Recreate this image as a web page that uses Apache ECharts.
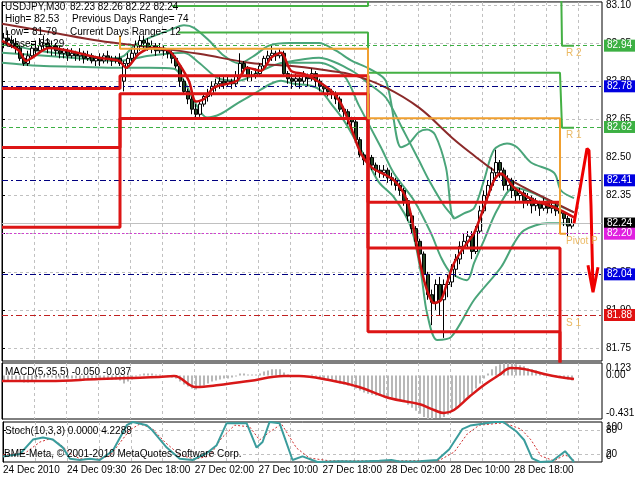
<!DOCTYPE html>
<html><head><meta charset="utf-8">
<script src="https://cdn.jsdelivr.net/npm/echarts@6/dist/echarts.min.js"></script>
<style>html,body{margin:0;padding:0;background:#fff}#c{width:640px;height:480px}</style>
</head><body><div id="c"></div>
<script>
const FONT = 'Liberation Sans';
// ---------- axes / ticks ----------
const xLabelPos = [0,16,32,48,64,80,96,112,128];
const xLabels = ['24 Dec 2010','24 Dec 09:30','26 Dec 18:00','27 Dec 02:00','27 Dec 10:00','27 Dec 18:00','28 Dec 02:00','28 Dec 10:00','28 Dec 18:00'];
const vGridPos = [0,8,16,24,32,40,48,56,64,72,80,88,96,104,112,120,128,136,144];
const yTicks = [81.75,81.90,82.05,82.20,82.35,82.50,82.65,82.80,82.95,83.10];
const macdEdgeTicks = [0.123,-0.431];
const macdEdgeText = ['0.123','-0.431'];
const macdZeroTick = [0];
const macdZeroText = ['0.00'];
const stochTicksA = [20,100];
const stochTicksB = [0,80];
const stochLevels = [20,80];
// ---------- candles [open, close, low, high] ----------
const candles = [
[82.95,82.97,82.93,82.99],[82.97,82.96,82.94,83.00],[82.96,82.95,82.93,82.98],[82.95,82.93,82.91,82.97],
[82.93,82.89,82.88,82.94],[82.89,82.87,82.86,82.91],[82.87,82.90,82.86,82.92],[82.90,82.93,82.89,82.95],
[82.93,82.92,82.90,82.96],[82.92,82.94,82.91,82.97],[82.94,82.95,82.92,82.98],[82.95,82.93,82.91,82.97],
[82.93,82.94,82.90,82.96],[82.94,82.92,82.90,82.95],[82.92,82.91,82.89,82.94],[82.91,82.92,82.89,82.93],
[82.92,82.90,82.88,82.93],[82.90,82.91,82.89,82.93],[82.91,82.90,82.88,82.92],[82.90,82.91,82.88,82.93],
[82.91,82.89,82.87,82.92],[82.89,82.90,82.88,82.92],[82.90,82.88,82.87,82.91],[82.88,82.89,82.86,82.90],
[82.89,82.88,82.86,82.91],[82.88,82.90,82.87,82.91],[82.90,82.89,82.87,82.92],[82.89,82.88,82.86,82.90],
[82.88,82.89,82.87,82.90],[82.89,82.87,82.86,82.91],
[82.80,82.87,82.76,82.88],[82.87,82.89,82.85,82.91],[82.89,82.91,82.87,82.93],[82.91,82.94,82.90,82.96],
[82.94,82.96,82.92,82.98],[82.96,82.95,82.93,82.98],[82.95,82.93,82.92,82.97],[82.93,82.94,82.91,82.96],
[82.94,82.92,82.90,82.95],[82.92,82.93,82.91,82.95],[82.93,82.92,82.90,82.94],[82.92,82.91,82.89,82.93],
[82.91,82.89,82.87,82.92],[82.89,82.86,82.85,82.90],[82.86,82.80,82.78,82.87],[82.80,82.76,82.75,82.81],
[82.76,82.73,82.71,82.77],[82.73,82.69,82.67,82.74],[82.69,82.67,82.65,82.71],[82.67,82.71,82.66,82.72],
[82.71,82.74,82.70,82.75],[82.74,82.75,82.72,82.77],[82.75,82.78,82.74,82.80],[82.78,82.79,82.76,82.81],
[82.79,82.80,82.77,82.82],[82.80,82.79,82.77,82.82],[82.79,82.80,82.78,82.82],[82.80,82.79,82.77,82.81],
[82.79,82.82,82.78,82.84],[82.82,82.87,82.81,82.91],[82.87,82.85,82.83,82.88],[82.85,82.82,82.80,82.86],
[82.82,82.82,82.80,82.84],[82.82,82.83,82.81,82.85],[82.83,82.86,82.82,82.87],[82.86,82.89,82.85,82.90],
[82.89,82.90,82.87,82.92],[82.90,82.91,82.88,82.94],[82.91,82.90,82.88,82.92],[82.90,82.91,82.89,82.93],
[82.91,82.83,82.82,82.92],[82.83,82.81,82.79,82.84],[82.81,82.80,82.77,82.83],[82.80,82.81,82.78,82.83],
[82.81,82.80,82.77,82.82],[82.80,82.82,82.79,82.84],[82.82,82.81,82.78,82.83],[82.81,82.83,82.80,82.85],
[82.83,82.80,82.78,82.84],[82.80,82.78,82.76,82.81],[82.78,82.77,82.75,82.79],[82.77,82.76,82.74,82.78],
[82.76,82.75,82.73,82.77],[82.75,82.73,82.71,82.76],[82.73,82.69,82.68,82.74],[82.69,82.68,82.66,82.70],
[82.68,82.65,82.63,82.69],[82.65,82.64,82.62,82.66],[82.64,82.57,82.56,82.65],[82.57,82.51,82.50,82.58],
[82.51,82.49,82.47,82.52],[82.49,82.50,82.47,82.52],[82.50,82.47,82.45,82.51],[82.47,82.45,82.43,82.48],
[82.45,82.44,82.42,82.47],[82.44,82.45,82.42,82.47],[82.45,82.42,82.40,82.46],[82.42,82.41,82.39,82.44],
[82.41,82.39,82.37,82.42],[82.39,82.37,82.35,82.40],[82.37,82.33,82.31,82.38],[82.33,82.27,82.25,82.34],
[82.27,82.22,82.20,82.28],[82.22,82.17,82.15,82.23],[82.17,82.12,82.10,82.18],[82.12,82.04,82.02,82.13],
[82.04,81.96,81.94,82.05],[81.96,81.93,81.84,81.98],[81.93,82.00,81.90,82.02],[82.00,81.94,81.88,82.03],
[81.94,82.00,81.79,82.02],[82.00,82.01,81.95,82.04],[82.01,82.06,81.99,82.08],[82.06,82.10,82.03,82.12],
[82.10,82.15,82.08,82.17],[82.15,82.17,82.12,82.20],[82.17,82.19,82.14,82.21],[82.19,82.13,82.10,82.21],
[82.13,82.21,82.12,82.23],[82.21,82.29,82.20,82.31],[82.29,82.35,82.28,82.37],[82.35,82.39,82.33,82.41],
[82.39,82.44,82.37,82.46],[82.44,82.48,82.41,82.53],[82.48,82.45,82.42,82.49],[82.45,82.39,82.37,82.46],
[82.39,82.41,82.37,82.43],[82.41,82.37,82.34,82.42],[82.37,82.35,82.32,82.38],[82.35,82.36,82.33,82.38],
[82.36,82.33,82.30,82.37],[82.33,82.34,82.31,82.36],[82.34,82.31,82.28,82.35],[82.31,82.32,82.29,82.34],
[82.32,82.30,82.27,82.33],[82.30,82.32,82.29,82.34],[82.32,82.30,82.28,82.33],[82.30,82.31,82.28,82.33],
[82.31,82.29,82.27,82.32],[82.29,82.28,82.25,82.31],[82.28,82.26,82.23,82.29],[82.26,82.23,82.19,82.27],
[82.23,82.24,82.22,82.26]
];
// ---------- indicator lines [barPosition, price] ----------
const bbUpper = [[0,82.95],[9.25,82.92],[19.25,82.90],[28,82.89],[30.5,82.90],[33,82.94],[36.75,82.97],[41.75,83.00],[45.5,83.02],[48,83.01],[51.75,82.96],[55.5,82.90],[59.25,82.87],[63,82.90],[66.75,82.94],[71.75,82.95],[79.25,82.95],[83.5,82.92],[87.5,82.88],[91.75,82.85],[96,82.80],[99.75,82.54],[101.75,82.555],[104.25,82.60],[106.25,82.61],[108.25,82.59],[111,82.46],[113,82.26],[115.5,82.28],[118,82.30],[120.5,82.41],[123,82.53],[126.25,82.555],[128.75,82.54],[132.25,82.48],[138,82.44],[139.75,82.37],[143,82.34]];
const bbMid = [[0,82.912],[14.25,82.896],[29.25,82.880],[36.75,82.900],[45.5,82.912],[49.25,82.873],[54.25,82.810],[59.25,82.802],[64.75,82.841],[70.5,82.873],[79.25,82.873],[85.5,82.822],[89.25,82.704],[94.75,82.539],[98,82.437],[103,82.331],[107.25,82.202],[109.75,82.107],[112.25,82.045],[116.25,82.017],[118,82.084],[120.5,82.174],[123.75,82.292],[128,82.382],[133,82.359],[138,82.319],[143,82.284]];
const bbLower = [[0,82.873],[9.25,82.861],[19.25,82.857],[29.25,82.853],[36.75,82.853],[43,82.849],[45.5,82.802],[48,82.723],[51.25,82.657],[54.75,82.672],[58.75,82.712],[63,82.751],[67.25,82.790],[69.75,82.802],[73,82.790],[77.25,82.782],[79.75,82.763],[82.25,82.712],[85.5,82.645],[88,82.578],[91.25,82.488],[94.25,82.402],[98,82.343],[102.25,82.225],[104.75,82.045],[106.25,81.888],[108.75,81.782],[112.25,81.793],[118,81.939],[124.75,82.068],[128,82.162],[130.5,82.213],[136.25,82.241],[139.75,82.241],[143,82.233]];
const bbSlow = [[70.5,82.873],[79.25,82.892],[87.5,82.841],[91.75,82.790],[96,82.735],[100,82.617],[104.25,82.488],[106.75,82.410],[110.5,82.311],[113,82.264]];
const maLong = [[0,83.026],[11.75,82.994],[24.25,82.959],[36.75,82.935],[49.25,82.908],[61.75,82.873],[74.25,82.857],[81.75,82.841],[87.5,82.826],[96,82.775],[104.25,82.696],[112.5,82.578],[118,82.508],[123,82.449],[130.5,82.382],[138,82.323],[143,82.284]];
const maFast = [[0,82.959],[4.25,82.920],[6,82.880],[7.5,82.892],[11.75,82.931],[24.25,82.892],[29.25,82.880],[31,82.853],[34.25,82.908],[37.5,82.931],[41.75,82.920],[44.25,82.869],[46.75,82.80],[48.5,82.72],[50.5,82.73],[53,82.775],[58.75,82.802],[61.25,82.853],[64.75,82.841],[67.25,82.892],[69.75,82.912],[72.25,82.841],[75.5,82.829],[78.75,82.802],[82.25,82.763],[84.75,82.712],[87.25,82.617],[89.75,82.515],[92.5,82.46],[98,82.41],[101.25,82.331],[103,82.213],[104.75,82.068],[106.25,81.978],[108,81.927],[109.75,81.939],[111.25,82.006],[113,82.084],[115.5,82.147],[118,82.202],[120.5,82.304],[123,82.41],[124.75,82.437],[128,82.382],[133,82.331],[138,82.304],[143,82.264]];
// daily pivot / range levels (step lines)
const redLine1 = [[0,82.771],[29.5,82.771],[29.5,82.822],[91.5,82.822],[91.5,82.324],[139.5,82.324]];
const redLine2 = [[0,82.539],[29.5,82.539],[29.5,82.751],[91.5,82.751],[91.5,82.144],[139.5,82.144],[139.5,81.0]];
const redLine3 = [[0,82.225],[29.5,82.225],[29.5,82.653],[91.5,82.653],[91.5,81.814],[139.5,81.814],[139.5,81.0]];
const greenLine1 = [[42.5,83.096],[91.5,83.096],[91.5,83.5],[139.5,83.5],[140,82.94],[143,82.94]];
const greenLine2 = [[44,82.992],[91.5,82.992],[91.5,82.833],[139.5,82.833],[140,82.617],[143,82.617]];
const orangeLine = [[29.5,82.98],[29.5,82.928],[91.5,82.928],[91.5,82.654],[139.5,82.654],[139.5,82.20],[141,82.20]];
const forecast = [[143,82.241],[146.25,82.535],[146.75,82.527],[147.25,82.311],[147.75,81.978]];
const forecastHead = [[146.5,82.076],[147.75,81.970],[149,82.068]];
const pivotNames = ['R 2','R 1','Pivot P','S 1'];
const pivotLevels = [82.94,82.62,82.20,81.88];
const levelValues = [82.94,82.78,82.62,82.41,82.24,82.20,82.04,81.88];
// ---------- MACD ----------
const macdHist = [-0.05,-0.05,-0.04,-0.04,-0.05,-0.07,-0.07,-0.05,-0.04,-0.03,-0.02,
-0.02,-0.02,-0.03,-0.03,-0.03,-0.03,-0.03,-0.03,-0.04,-0.04,-0.04,-0.04,-0.04,-0.04,-0.04,-0.04,-0.04,-0.04,-0.05,
-0.08,-0.06,-0.04,-0.01,0.01,0.02,0.02,0.02,0.01,0.01,0.00,-0.01,-0.02,-0.03,
-0.06,-0.09,-0.11,-0.13,-0.14,-0.12,-0.10,-0.08,-0.06,-0.05,-0.04,-0.03,
-0.03,-0.02,-0.01,0.02,0.02,0.01,0.01,0.01,0.02,0.04,0.05,0.06,0.06,0.06,
0.03,0.01,0.00,0.00,-0.01,0.00,0.00,0.01,-0.01,-0.02,-0.03,-0.04,-0.05,-0.06,-0.08,-0.09,
-0.10,-0.11,-0.13,-0.15,-0.17,-0.18,-0.19,-0.20,-0.20,-0.21,-0.21,-0.22,-0.23,-0.24,
-0.26,-0.29,-0.32,-0.35,-0.38,-0.41,-0.43,-0.43,-0.42,-0.42,-0.41,-0.39,-0.36,
-0.33,-0.29,-0.25,-0.21,-0.18,-0.13,-0.08,-0.03,0.02,0.06,0.09,0.11,0.12,
0.12,0.12,0.11,0.10,0.09,0.07,0.06,0.05,0.03,0.02,0.01,0.00,-0.01,-0.02,-0.03,-0.04,-0.05];
const macdSignal = [[0,-0.055],[11.75,-0.055],[24.25,-0.036],[31.75,-0.026],[39.25,-0.016],[43,-0.006],[48.5,-0.115],[54.25,-0.095],[61.75,-0.055],[70.5,-0.006],[74.25,-0.006],[81.75,-0.046],[89.25,-0.115],[96.75,-0.224],[104.25,-0.283],[108,-0.342],[110.5,-0.372],[113,-0.342],[116.75,-0.214],[120.5,-0.095],[124.25,0.004],[127.25,0.073],[130.5,0.063],[135.5,0.014],[139.25,-0.016],[143,-0.036]];
// ---------- Stochastic ----------
const stochMain = [[0,14],[4.25,20],[7.5,56],[10,61],[12.5,56],[15,36],[16.75,8],[19.25,5],[21.75,8],[24.25,5],[27.5,28],[31,92],[32.5,100],[36,92],[37.5,78],[41,36],[44.25,8],[47.5,5],[51,22],[53.5,42],[56,97],[61,97],[63.5,36],[65,50],[66.75,100],[69.25,97],[72.5,5],[75,14],[78.75,0],[84.25,2],[89.25,1],[94.25,3],[97.25,5],[99.25,1],[104.25,2],[108.75,5],[111.75,32],[115,82],[117,91],[123.25,100],[125.25,100],[128.5,77],[130.5,55],[132.5,9],[134.5,0],[137.5,2],[140.75,27],[143,0]];
const stochSignal = [[0,18],[5.5,22],[9.25,50],[11.75,58],[14.25,45],[16.75,22],[19.25,8],[23,6],[26.75,15],[31.75,80],[34.25,95],[37.25,85],[40.5,50],[44.25,18],[48,7],[51.75,15],[54.75,60],[58,92],[61.75,88],[64.25,55],[66.75,75],[69.75,95],[73.5,35],[76.75,10],[81.75,3],[99.25,3],[109.25,4],[113,25],[116.25,70],[119.25,92],[125.5,98],[129.75,82],[132.25,55],[134.75,15],[138,3],[140.75,18],[143,4]];

// ================= chart =================
const NBARS = 150;
const cats = Array.from({length: NBARS}, (_, i) => String(i));
const chart = echarts.init(document.getElementById('c'), null, {renderer: 'canvas'});
const gridLine = {show: true, lineStyle: {color: '#c0c0c0', type: [3, 3], width: 1}};
const L = 2, R = 38;
function valX(gi, extra) {
  return Object.assign({type: 'value', gridIndex: gi, min: 0, max: NBARS,
    axisLine: {show: false}, axisTick: {show: false, customValues: vGridPos},
    axisLabel: {show: false}, splitLine: gridLine}, extra || {});
}
function lineS(data, color, width, extra) {
  return Object.assign({type: 'line', xAxisIndex: 2, yAxisIndex: 0, data: data, symbol: 'none',
    lineStyle: {color: color, width: width}, silent: true, animation: false, z: 3}, extra || {});
}
const levelStyles = [
  {c: '#3cb043', t: [4, 3], bg: '#3cb043'},
  {c: '#000080', t: [6, 3, 2, 3], bg: '#0000e0'},
  {c: '#3cb043', t: [4, 3], bg: '#3cb043'},
  {c: '#000080', t: [6, 3, 2, 3], bg: '#0000e0'},
  {c: '#c0c0c0', t: 'solid', bg: '#000000'},
  {c: '#d040d0', t: [2, 2], bg: '#e020e0'},
  {c: '#000080', t: [6, 3, 2, 3], bg: '#0000e0'},
  {c: '#c02020', t: [6, 3, 2, 3], bg: '#e01010'}
];
const txt = (t, l, tp) => ({type: 'text', left: l, top: tp, z: 100,
  style: {text: t, font: '10px "' + FONT + '"', fill: '#000'}});
const labelBase = {margin: 4, fontSize: 10, fontFamily: FONT, color: '#000',
  showMinLabel: true, showMaxLabel: true, hideOverlap: false};
const richShift = {top: {padding: [10, 0, 0, 0], fontSize: 10, fontFamily: FONT, color: '#000'},
                   bot: {padding: [0, 0, 11, 0], fontSize: 10, fontFamily: FONT, color: '#000'}};
function subAxis(gi, min, max, vals, fmt, extra) {
  return Object.assign({type: 'value', gridIndex: gi, position: 'right', min: min, max: max,
    axisLine: {show: false}, axisTick: {show: false, customValues: vals},
    axisLabel: Object.assign({}, labelBase, {customValues: vals, formatter: fmt, rich: richShift}),
    splitLine: {show: false}}, extra || {});
}

const option = {
  backgroundColor: '#fff',
  animation: false,
  textStyle: {fontFamily: FONT},
  grid: [
    {left: L, right: R, top: 1, height: 360, show: true, borderColor: '#000', borderWidth: 1},
    {left: L, right: R, top: 363, height: 56, show: true, borderColor: '#000', borderWidth: 1},
    {left: L, right: R, top: 422, height: 40, show: true, borderColor: '#000', borderWidth: 1}
  ],
  xAxis: [
    {type: 'category', gridIndex: 0, data: cats, show: false},
    {type: 'category', gridIndex: 1, data: cats, show: false},
    valX(0), valX(1),
    valX(2, {axisLabel: {show: true, customValues: xLabelPos, align: 'left', margin: 3,
      fontSize: 10, fontFamily: FONT, color: '#000', showMinLabel: true, hideOverlap: false,
      formatter: v => xLabels[xLabelPos.indexOf(v)] || ''}})
  ],
  yAxis: [
    {type: 'value', gridIndex: 0, position: 'right', min: 81.699, max: 83.112,
     axisLine: {show: true, lineStyle: {color: '#000'}},
     axisTick: {show: true, length: 3, customValues: yTicks, lineStyle: {color: '#000'}},
     axisLabel: Object.assign({}, labelBase, {customValues: yTicks, formatter: v => v.toFixed(2)}),
     splitLine: gridLine},
    // MACD: edge labels (max / min)
    subAxis(1, -0.431, 0.123, macdEdgeTicks, v => {
      const i = macdEdgeTicks.findIndex(t => Math.abs(t - v) < 1e-9);
      return i === 0 ? '{top|' + macdEdgeText[0] + '}' : '{bot|' + macdEdgeText[1] + '}';
    }, {axisLine: {show: true, lineStyle: {color: '#000'}}}),
    // Stoch: 20 / 100
    subAxis(2, 0, 100, stochTicksA, v => v === 100 ? '{top|100}' : String(v),
      {axisLine: {show: true, lineStyle: {color: '#000'}},
       axisTick: {show: true, length: 3, customValues: stochLevels, lineStyle: {color: '#000'}},
       splitLine: gridLine}),
    // MACD: zero label
    subAxis(1, -0.431, 0.123, macdZeroTick, v => macdZeroText[0]),
    // Stoch: 0 / 80
    subAxis(2, 0, 100, stochTicksB, v => v === 0 ? '{bot|0}' : String(v))
  ],
  graphic: [
    txt('USDJPY,M30', 5, 2), txt('82.23 82.26 82.22 82.24', 70, 2),
    txt('High= 82.53', 5, 14), txt('Previous Days Range= 74', 72, 14),
    txt('Low= 81.79', 5, 27), txt('Current Days Range= 12', 70, 27),
    txt('Close= 82.29', 5, 39),
    txt('MACD(5,35,5) -0.050 -0.037', 5, 367),
    txt('Stoch(10,3,3) 0.0000 4.2288', 5, 426),
    txt('BME-Meta, \u00a9 2001-2010 MetaQuotes Software Corp.', 4, 449)
  ],
  series: [
    lineS(bbUpper, '#4aa57a', 2, {smooth: 0.3}),
    lineS(bbSlow, '#4aa57a', 2, {smooth: 0.3}),
    lineS(bbMid, '#4aa57a', 2, {smooth: 0.3}),
    lineS(bbLower, '#4aa57a', 2, {smooth: 0.3}),
    lineS(maLong, '#8b2a2a', 2, {smooth: 0.4}),
    {type: 'candlestick', xAxisIndex: 0, yAxisIndex: 0, data: candles, barWidth: 3, z: 4,
     itemStyle: {color: '#ffffff', color0: '#244424', borderColor: '#000', borderColor0: '#000', borderWidth: 1},
     silent: true, animation: false},
    lineS(maFast, '#cc1010', 2.5, {smooth: 0.3, z: 5}),
    lineS(redLine1, '#dd1515', 3, {z: 6}),
    lineS(redLine2, '#dd1515', 3, {z: 6}),
    lineS(redLine3, '#dd1515', 3, {z: 6}),
    lineS(greenLine1, '#44b044', 2, {z: 6}),
    lineS(greenLine2, '#44b044', 2, {z: 6}),
    lineS(orangeLine, '#f0a030', 2, {z: 6}),
    lineS(forecast, '#ee0000', 3, {z: 7}),
    lineS(forecastHead, '#ee0000', 3, {z: 7}),
    {type: 'scatter', xAxisIndex: 2, yAxisIndex: 0, symbolSize: 0, z: 8, silent: true,
     data: pivotLevels.map((v, i) => [141, v, pivotNames[i]]),
     label: {show: true, position: [0, 3], align: 'left', verticalAlign: 'top', color: '#e6a83c',
       fontSize: 10, fontFamily: FONT, formatter: p => p.data[2]}},
    {type: 'line', xAxisIndex: 2, yAxisIndex: 0, data: [], z: 9, silent: true,
     markLine: {symbol: 'none', silent: true, animation: false,
       data: levelValues.map((v, i) => ({yAxis: v,
         lineStyle: {color: levelStyles[i].c, type: levelStyles[i].t, width: 1},
         label: {show: true, position: 'end', distance: 2, formatter: p => Number(p.value).toFixed(2),
           color: '#fff', backgroundColor: levelStyles[i].bg, padding: [1, 3, 1, 3],
           fontSize: 10, fontFamily: FONT}}))}},
    {type: 'bar', xAxisIndex: 1, yAxisIndex: 1, data: macdHist, barWidth: 2,
     itemStyle: {color: '#b8b8b8'}, silent: true, animation: false},
    {type: 'line', xAxisIndex: 3, yAxisIndex: 1, data: macdSignal, symbol: 'none', smooth: 0.4,
     lineStyle: {color: '#d81818', width: 2.5}, silent: true, animation: false, z: 5},
    {type: 'line', xAxisIndex: 4, yAxisIndex: 2, data: stochSignal, symbol: 'none',
     lineStyle: {color: '#d03030', width: 1, type: [2, 2]}, silent: true, animation: false},
    {type: 'line', xAxisIndex: 4, yAxisIndex: 2, data: stochMain, symbol: 'none',
     lineStyle: {color: '#3a9c9c', width: 2}, silent: true, animation: false}
  ]
};
chart.setOption(option);
</script></body></html>
